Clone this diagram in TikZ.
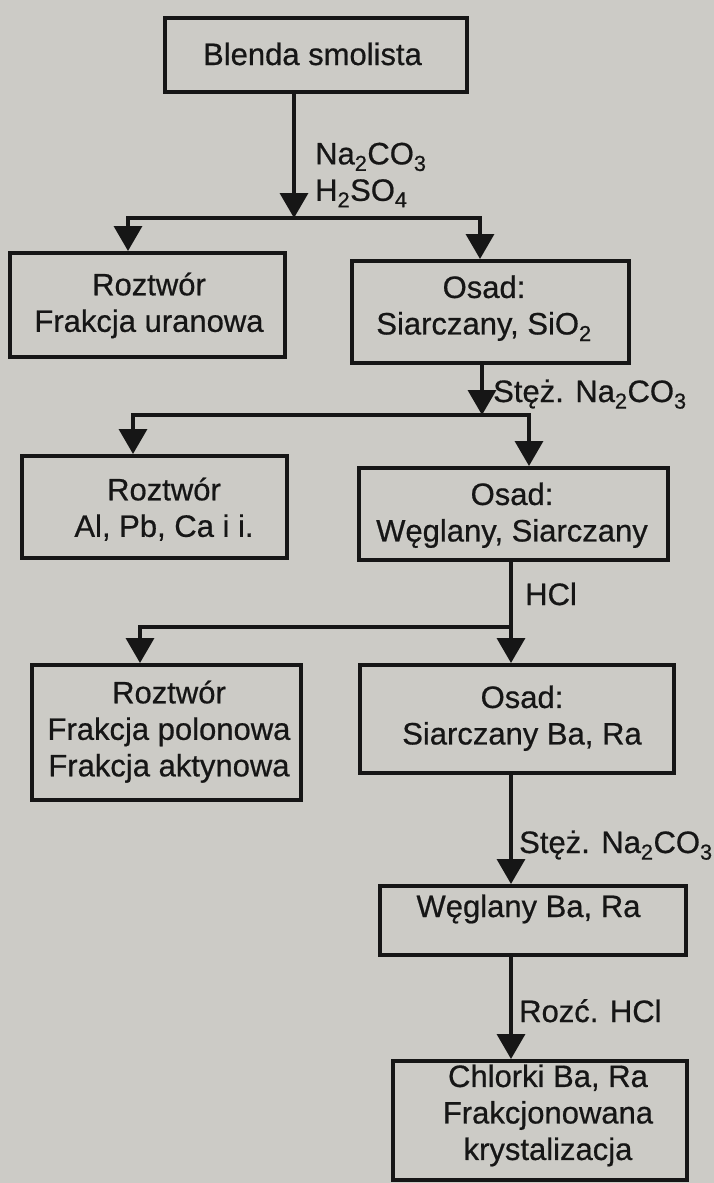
\documentclass[tikz,border=0pt]{standalone}
\usepackage{fontspec}
\setmainfont{Liberation Sans}[FakeBold=0.6]
\usetikzlibrary{arrows.meta}
\definecolor{paper}{RGB}{204,203,198}
\definecolor{ink}{RGB}{22,22,22}
\tikzset{
  box/.style={draw=ink, line width=4pt, rectangle, inner sep=0pt},
  txt/.style={font=\fontsize{31}{36.5}\selectfont, text=ink, inner sep=0pt, align=center},
  lab/.style={font=\fontsize{31}{36.5}\selectfont, text=ink, inner sep=0pt, align=left},
  conn/.style={draw=ink, line width=3.5pt, line join=miter},
  arr/.style={conn, -{Triangle[width=28pt,length=25pt]}},
}
\begin{document}
\begin{tikzpicture}[x=1pt,y=-1pt]
\fill[paper] (0,0) rectangle (714,1183);
\useasboundingbox (0,0) rectangle (714,1183);

% boxes
\node[box, minimum width=302pt, minimum height=74pt]  (blenda) at (316,55) {};
\node[box, minimum width=275pt, minimum height=104pt] (roz1)   at (147.5,305) {};
\node[box, minimum width=277pt, minimum height=102pt] (osad1)  at (490.5,312) {};
\node[box, minimum width=265pt, minimum height=102pt] (roz2)   at (154.5,507) {};
\node[box, minimum width=309pt, minimum height=92pt]  (osad2)  at (513.5,514) {};
\node[box, minimum width=269pt, minimum height=135pt] (roz3)   at (166.5,732.5) {};
\node[box, minimum width=314pt, minimum height=108pt] (osad3)  at (517,719) {};
\node[box, minimum width=306pt, minimum height=69pt]  (wegl)   at (533,920.5) {};
\node[box, minimum width=294pt, minimum height=119pt] (chl)    at (540,1120.5) {};

% box texts
\node[txt, anchor=base]  (tblenda) at (312.5,65) {Blenda smolista};
\node[txt, anchor=north] (troz1)  at (149,272.3) {Roztwór\\Frakcja uranowa};
\node[txt, anchor=north] (tosad1) at (484,275.3) {Osad:\\Siarczany, SiO\textsubscript{2}};
\node[txt, anchor=north] (troz2)  at (164,477.3) {Roztwór\\Al, Pb, Ca i i.};
\node[txt, anchor=north] (tosad2) at (512,482.3) {Osad:\\Węglany, Siarczany};
\node[txt, anchor=north] (troz3)  at (169,680.3) {Roztwór\\Frakcja polonowa\\Frakcja aktynowa};
\node[txt, anchor=north] (tosad3) at (522,685.3) {Osad:\\Siarczany Ba, Ra};
\node[txt, anchor=base]  (twegl)  at (528.5,917) {Węglany Ba, Ra};
\node[txt, anchor=north] (tchl)   at (548,1064.3) {Chlorki Ba, Ra\\Frakcjonowana\\krystalizacja};

% junction points
\coordinate (j1)  at (294,218);
\coordinate (j1l) at (128,218);
\coordinate (j1r) at (480,218);
\coordinate (j2)  at (482,415);
\coordinate (j2l) at (133,415);
\coordinate (j2r) at (529,415);
\coordinate (j3)  at (511,627);
\coordinate (j3l) at (140,627);

% connectors
\draw[arr] (blenda.south -| j1) -- (j1);
\draw[arr] (j1) -- (j1l) -- (j1l |- roz1.north);
\draw[arr] (j1) -- (j1r) -- (j1r |- osad1.north);

\draw[arr] (osad1.south -| j2) -- (j2);
\draw[arr] (j2) -- (j2l) -- (j2l |- roz2.north);
\draw[arr] (j2) -- (j2r) -- (j2r |- osad2.north);

\draw[arr] (osad2.south -| j3) -- (osad3.north -| j3);
\draw[arr] (j3) -- (j3l) -- (j3l |- roz3.north);

\draw[arr] (osad3.south -| j3) -- (wegl.north -| j3);
\draw[arr] (wegl.south -| j3) -- (chl.north -| j3);

% reagent labels
\node[lab, anchor=north west] (l1) at (315,142.5) {Na\textsubscript{2}CO\textsubscript{3}\\H\textsubscript{2}SO\textsubscript{4}};
\node[lab, anchor=base west] (l2) at (493,402) {Stęż. Na\textsubscript{2}CO\textsubscript{3}};
\node[lab, anchor=base west] (l3) at (525,605) {HCl};
\node[lab, anchor=base west] (l4) at (519,853) {Stęż. Na\textsubscript{2}CO\textsubscript{3}};
\node[lab, anchor=base west] (l5) at (519,1022) {Rozć. HCl};
\end{tikzpicture}
\end{document}
